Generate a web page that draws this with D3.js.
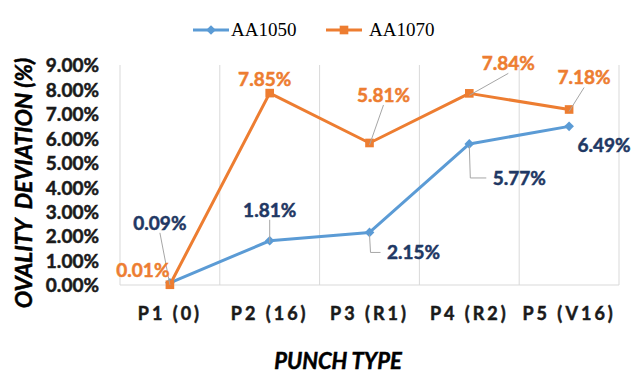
<!DOCTYPE html>
<html>
<head>
<meta charset="utf-8">
<script src="https://cdn.jsdelivr.net/npm/d3@7"></script>
<style>
  html, body { margin: 0; padding: 0; background: #fff; }
  svg { display: block; }
  .num { font-family: Lato, "Open Sans", sans-serif; font-weight: 700; paint-order: stroke; }
</style>
</head>
<body>
<svg id="chart" width="632" height="374"></svg>
<script>
// Punch types along the x axis
const categories = ["P1 (0)", "P2 (16)", "P3 (R1)", "P4 (R2)", "P5 (V16)"];
// Ovality deviation in percent for each alloy
const aa1050 = [0.09, 1.81, 2.15, 5.77, 6.49];
const aa1070 = [0.01, 7.85, 5.81, 7.84, 7.18];
const seriesNames = ["AA1050", "AA1070"];
const yTicks = [0, 1, 2, 3, 4, 5, 6, 7, 8, 9];

// Placement of each value label relative to its point (dx, dy to text centre)
// and the kind of leader line joining them.
const labelLayout = {
  AA1050: [
    { dx: -10, dy: -60, leader: "straight" },
    { dx: 0, dy: -31, leader: "straight" },
    { dx: 44, dy: 20, leader: "elbow" },
    { dx: 50, dy: 34, leader: "elbow" },
    { dx: 35, dy: 19, leader: "none" }
  ],
  AA1070: [
    { dx: -27, dy: -15, leader: "none" },
    { dx: -5, dy: -14, leader: "none" },
    { dx: 14, dy: -48, leader: "straight" },
    { dx: 39, dy: -30, leader: "straight" },
    { dx: 15, dy: -32, leader: "straight" }
  ]
};

const colors = { AA1050: "#5B9BD5", AA1070: "#ED7D31" };
const labelColors = { AA1050: "#1F3864", AA1070: "#ED7D31" };

const svg = d3.select("#chart");
const plot = { left: 120, right: 619, top: 65, bottom: 285 };

const x = d3.scaleBand().domain(categories).range([plot.left, plot.right]).padding(0);
const y = d3.scaleLinear().domain([0, 9]).range([plot.bottom, plot.top]);

// Vertical gridlines at category boundaries
const bounds = categories.map(c => x(c)).concat([plot.right]);
svg.append("g").selectAll("line").data(bounds).join("line")
  .attr("x1", d => d).attr("x2", d => d)
  .attr("y1", plot.top).attr("y2", plot.bottom)
  .attr("stroke", "#D9D9D9").attr("stroke-width", 1);

// Category axis line along the bottom
svg.append("line")
  .attr("x1", plot.left).attr("x2", plot.right)
  .attr("y1", plot.bottom).attr("y2", plot.bottom)
  .attr("stroke", "#D9D9D9").attr("stroke-width", 1);

// Y axis tick labels
const yAxis = d3.axisLeft(y).tickValues(yTicks).tickSize(0).tickPadding(0)
  .tickFormat(d => d.toFixed(2) + "%");
const gy = svg.append("g").attr("transform", `translate(99,0)`).call(yAxis);
gy.select(".domain").remove();
gy.selectAll("text")
  .attr("class", "num")
  .attr("font-size", 19)
  .attr("fill", "#1a1a1a")
  .attr("stroke", "#1a1a1a").attr("stroke-width", 0.5)
  .attr("dy", "0.36em");

// X axis category labels
const xAxis = d3.axisBottom(x).tickSize(0).tickPadding(0);
const gx = svg.append("g").attr("transform", `translate(0,314)`).call(xAxis);
gx.select(".domain").remove();
gx.selectAll("text")
  .attr("class", "num")
  .attr("font-size", 18)
  .attr("letter-spacing", "3px")
  .attr("fill", "#1a1a1a")
  .attr("stroke", "#1a1a1a").attr("stroke-width", 0.5)
  .attr("dy", "0.36em");

// Axis titles
svg.append("text")
  .attr("class", "num")
  .attr("x", 338).attr("y", 369)
  .attr("text-anchor", "middle")
  .attr("font-size", 22)
  .attr("font-style", "italic")
  .attr("fill", "#000")
  .attr("stroke", "#000").attr("stroke-width", 0.5)
  .text("PUNCH TYPE");

svg.append("text")
  .attr("class", "num")
  .attr("transform", "translate(24,183) rotate(-90)")
  .attr("dy", "0.36em")
  .attr("text-anchor", "middle")
  .attr("font-size", 23)
  .attr("font-style", "italic")
  .attr("fill", "#000")
  .attr("stroke", "#000").attr("stroke-width", 0.5)
  .style("white-space", "pre")
  .text("OVALITY  DEVIATION (%)");

const cx = c => x(c) + x.bandwidth() / 2;
const line = d3.line().x(d => cx(d.cat)).y(d => y(d.v));

const series = [
  { name: "AA1050", values: aa1050 },
  { name: "AA1070", values: aa1070 }
];

const sym = {
  AA1050: d3.symbol().type(d3.symbolDiamond2).size(60),
  AA1070: d3.symbol().type(d3.symbolSquare2).size(95)
};

// Lines and markers, second series drawn over the first
series.forEach(s => {
  const pts = s.values.map((v, i) => ({ cat: categories[i], v }));
  svg.append("path").datum(pts)
    .attr("d", line)
    .attr("fill", "none")
    .attr("stroke", colors[s.name])
    .attr("stroke-width", 3)
    .attr("stroke-linejoin", "round");
  svg.append("g").selectAll("path").data(s.values).join("path")
    .attr("d", sym[s.name])
    .attr("transform", (v, i) => `translate(${cx(categories[i])},${y(v)})`)
    .attr("fill", colors[s.name]);
});

// Value labels with leader lines
series.forEach(s => {
  s.values.forEach((v, i) => {
    const px = cx(categories[i]), py = y(v);
    const L = labelLayout[s.name][i];
    const lx = px + L.dx, ly = py + L.dy;
    if (L.leader === "straight") {
      const sy = L.dy < 0 ? ly + 10 : ly - 10;
      svg.append("line")
        .attr("x1", lx).attr("y1", sy)
        .attr("x2", px).attr("y2", py - Math.sign(L.dy) * 2)
        .attr("stroke", "#A6A6A6").attr("stroke-width", 1);
    } else if (L.leader === "elbow") {
      svg.append("polyline")
        .attr("points", `${px},${py + 2} ${px + 1},${ly} ${lx - 33},${ly}`)
        .attr("fill", "none")
        .attr("stroke", "#A6A6A6").attr("stroke-width", 1);
    }
    svg.append("text")
      .attr("class", "num")
      .attr("x", lx).attr("y", ly)
      .attr("dy", "0.36em")
      .attr("text-anchor", "middle")
      .attr("font-size", 19)
      .attr("fill", labelColors[s.name])
      .attr("stroke", labelColors[s.name]).attr("stroke-width", 0.5)
      .text(v.toFixed(2) + "%");
  });
});

// Legend
const legendItems = [
  { name: seriesNames[0], x0: 193 },
  { name: seriesNames[1], x0: 326 }
];
const lg = svg.append("g");
legendItems.forEach(it => {
  lg.append("line")
    .attr("x1", it.x0).attr("x2", it.x0 + 36)
    .attr("y1", 30).attr("y2", 30)
    .attr("stroke", colors[it.name]).attr("stroke-width", 3);
  lg.append("path")
    .attr("d", sym[it.name])
    .attr("transform", `translate(${it.x0 + 18},30)`)
    .attr("fill", colors[it.name]);
  lg.append("text")
    .attr("x", it.x0 + (it.name === "AA1050" ? 38 : 43)).attr("y", 30)
    .attr("dy", "0.34em")
    .attr("font-family", "'Liberation Serif', 'Times New Roman', serif")
    .attr("font-size", 19)
    .attr("fill", "#000")
    .text(it.name);
});
</script>
</body>
</html>
